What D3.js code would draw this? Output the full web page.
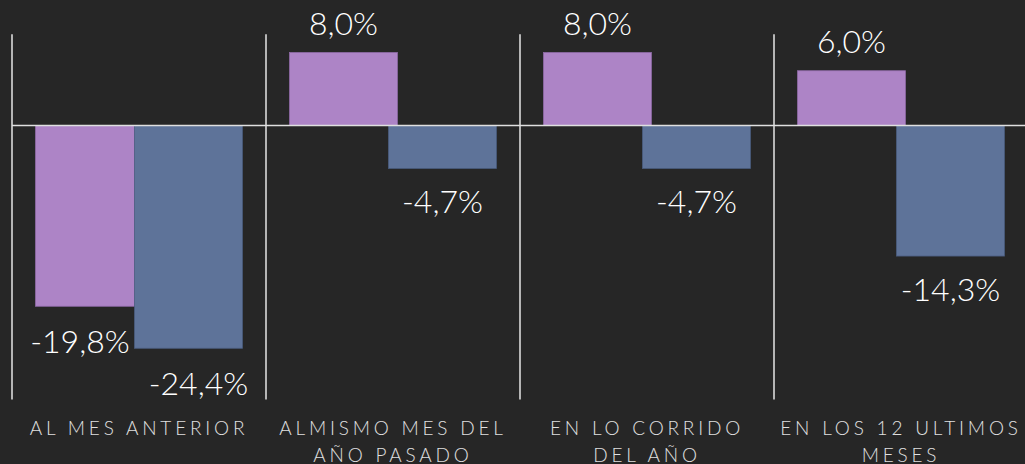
<!DOCTYPE html>
<html>
<head>
<meta charset="utf-8">
<script src="https://cdn.jsdelivr.net/npm/d3@7"></script>
<style>
	html, body { margin: 0; padding: 0; background: #262626; }
	svg { display: block; }
</style>
</head>
<body>
<svg id="chart" width="1025" height="464"></svg>
<script>
var categories = [
	['AL MES ANTERIOR'],
	['ALMISMO MES DEL', 'AÑO PASADO'],
	['EN LO CORRIDO', 'DEL AÑO'],
	['EN LOS 12 ULTIMOS', 'MESES']
]
var seriesNames = ['serie1', 'serie2']
var serie1 = [-19.8, 8.0, 8.0, 6.0]
var serie2 = [-24.4, -4.7, -4.7, -14.3]
var colors = ['#ad84c6', '#5e7399']
var strokes = ['#8e6aa6', '#4a5c7e']

var svg = d3.select('#chart')
var W = 1025, H = 464

var x0 = d3.scaleBand()
	.domain(d3.range(categories.length))
	.range([12, 12 + 254 * categories.length])

var x1 = d3.scaleBand()
	.domain(seriesNames)
	.range([23.5, 23.5 + 198])

var barW = x1.bandwidth() * 1.09

var y = d3.scaleLinear()
	.domain([-30, 10])
	.range([399.4, 34.2])

var esLocale = d3.formatLocale({ decimal: ',', thousands: '.', grouping: [3], currency: ['', ''], minus: '-' })
var fmt = function(v) { return esLocale.format('.1f')(v) + '%' }

var rows = []
categories.forEach(function(c, i) {
	rows.push({ cat: i, s: 0, v: serie1[i] })
	rows.push({ cat: i, s: 1, v: serie2[i] })
})

// separators between categories
svg.selectAll('.sep').data(d3.range(categories.length))
	.enter().append('line')
	.attr('class', 'sep')
	.attr('x1', function(d) { return x0(d) })
	.attr('x2', function(d) { return x0(d) })
	.attr('y1', y(10))
	.attr('y2', y(-30))
	.style('stroke', '#e6e6e6')
	.style('stroke-width', 1.5)

svg.selectAll('.bar').data(rows)
	.enter().append('rect')
	.attr('class', 'bar')
	.attr('x', function(d) { return x0(d.cat) + x1(seriesNames[d.s]) })
	.attr('width', barW)
	.attr('y', function(d) { return Math.min(y(d.v), y(0)) })
	.attr('height', function(d) { return Math.abs(y(d.v) - y(0)) })
	.style('fill', function(d) { return colors[d.s] })
	.style('stroke', function(d) { return strokes[d.s] })
	.style('stroke-width', 0.8)

// zero line
svg.append('line')
	.attr('x1', x0(0))
	.attr('x2', W)
	.attr('y1', y(0))
	.attr('y2', y(0))
	.style('stroke', '#e0e0e0')
	.style('stroke-width', 1.5)

// first category labels were pulled apart in the original
function nudgeX(d) {
	if (d.cat == 0) return d.s == 0 ? -9.5 : 10
	return 0
}
function nudgeY(d) {
	if (d.cat == 0) return 2
	return 0
}

svg.selectAll('.val').data(rows)
	.enter().append('text')
	.attr('class', 'val')
	.attr('x', function(d) { return x0(d.cat) + x1(seriesNames[d.s]) + barW / 2 + nudgeX(d) })
	.attr('y', function(d) { return d.v >= 0 ? y(d.v) - 17.5 : y(d.v) + 45 + nudgeY(d) })
	.attr('text-anchor', 'middle')
	.style('font-family', 'Lato, sans-serif')
	.style('font-weight', 300)
	.style('font-size', '32px')
	.style('fill', '#ffffff')
	.text(function(d) { return fmt(d.v) })

var lab = svg.selectAll('.cat').data(categories)
	.enter().append('text')
	.attr('class', 'cat')
	.attr('x', function(d, i) { return x0(i) + x0.bandwidth() / 2 })
	.attr('y', 435)
	.attr('text-anchor', 'middle')
	.style('font-family', 'Lato, sans-serif')
	.style('font-weight', 300)
	.style('font-size', '19px')
	.style('letter-spacing', '3.8px')
	.style('fill', '#e0e0e0')

lab.selectAll('tspan').data(function(d) { return d })
	.enter().append('tspan')
	.attr('x', function() { return d3.select(this.parentNode).attr('x') })
	.attr('dy', function(d, i) { return i == 0 ? 0 : 26.5 })
	.text(function(d) { return d })
</script>
</body>
</html>
